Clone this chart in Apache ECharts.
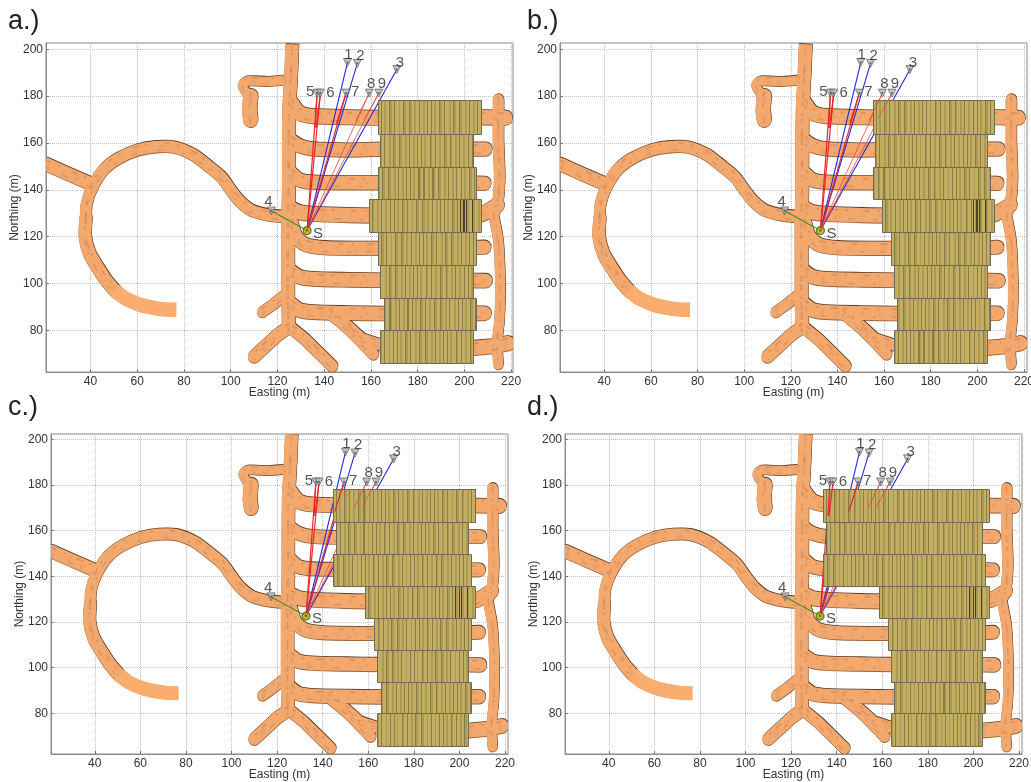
<!DOCTYPE html>
<html>
<head>
<meta charset="utf-8">
<script src="https://cdn.jsdelivr.net/npm/echarts@6/dist/echarts.min.js"></script>
<style>html,body{margin:0;padding:0;background:#fff}#c{width:1031px;height:782px;filter:blur(0.35px)}</style>
</head>
<body>
<div id="c"></div>
<script>
// ---- receivers and source (Easting, Northing in metres)
const receiverNames = ['1','2','3','4','5','6','7','8','9'];
const receiverE = [150,154.2,171.1,117.4,137,138.4,149.4,159.3,163.4];
const receiverN = [194.4,194,191.4,131,181.3,181.3,181.3,181.3,181.3];
const sourceE = 132.7, sourceN = 122.6;
const rayKinds = ['blue','blue','blue','green','red','red','red','thin','thin'];
// where red rays enter the stope volume (drawn above the stopes down to here)
const rayTopEndE = [null,null,null,null,136.2,136.6,145.3,153.7,157.4];
const rayTopEndN = [null,null,null,null,166.5,166.5,168.3,169.8,170.5];

// ---- stope rows
const rowNorthing = [178.2,163.9,149.9,135.9,121.9,107.9,93.9,80,65.9];
const stopeExtentA = [[162.9,207],[164,203.6],[162.9,205],[159,206.9],[162.9,205],[164,203.6],[165.4,205],[164,203.6]];
const stopeExtentB = [[155.3,207.1],[156.3,204],[155.3,205.3],[159.1,207.1],[162.9,205.3],[164.1,204],[165.6,205.3],[164.1,204]];
const stopeExtentC = [[144.5,207],[145.7,203.7],[144.5,205],[158.7,207],[162.7,205],[164,203.7],[165.4,205],[164,203.7]];
const stopeExtentD = [[134,207],[135.3,203.7],[134,205],[158.7,207],[162.7,205],[164,203.7],[165.3,205],[164,203.7]];
const sliceWidths = [1.3,0.45,0.9,0.8,1.4,0.45,0.7,1.0,0.45,1.5,0.8,1.1,0.45,0.8,1.3,0.45,0.7,1.2,0.85,0.9,0.45,1.4,0.75,1.0,0.45];
const sliceShades = [0,2,0,1,0,2,1,0,2,0,1,0,2,1,0,2,1,0,1,0,2,0,1,0,2];
const rowPatternStart = [0,6,10,14,4,8,12,18];
const darkStrips = [[198,198.7],[199.6,200.2],[200.6,201.3],[203.2,203.8]];

// ---- tunnels: centre lines (E,N) and width in metres
const tunnels = [
 {w:5.6,path:[[21,151],[30,147],[40,142.7]]},
 {w:5,path:[[38,127],[38.3,134],[41,141.5],[46,149],[52,153.5],[60,157],[68,158.4],[76,158.2],[84,155],[90,150.5],[96,145.5],[100,140],[104,135],[109,131.2],[116,129.3],[124,128.5]]},
 {w:5.6,path:[[38,128],[37.7,120],[39.5,113],[43,107],[47,101],[51,96.5]]},
 {w:6.2,plain:true,butt:true,path:[[50.5,97],[55,93.6],[61,91],[66,89.8],[71,89],[76.8,88.8]]},
 {w:5.8,butt:true,path:[[126.3,202.2],[125.8,190],[125,175],[124.8,160],[124.8,140],[124.5,128],[124.5,110],[124.5,95],[124.8,80]]},
 {w:4,path:[[124,187],[116,186.3],[107,186.5],[105,184.6],[108,180]]},
 {w:6.4,path:[[108.5,180],[108,174],[108.5,170]]},
 {w:6.2,path:[[126,177],[129.5,172.8],[135,171.5],[150,171],[165,170.8],[207,171],[217.5,170.8]]},
 {w:5.8,path:[[126,161],[129.5,158.8],[135,157.5],[150,157],[165,157.4],[200,157.4],[209,157.4]]},
 {w:5.8,path:[[126,147],[129.5,144.2],[135,143.3],[150,143],[165,143],[200,143],[208.5,142.8]]},
 {w:6.2,path:[[126,132],[129.5,130.4],[135,129.8],[150,129.2],[165,129],[207,129.5],[210,131],[214,133.5]]},
 {w:5.8,path:[[126,126],[128,120],[132,116.6],[140,115.3],[160,115],[200,115.3],[208.5,115.5]]},
 {w:6,path:[[126,105],[129.5,102.8],[135,102],[150,101.6],[165,101.4],[200,101.3],[209,101.2]]},
 {w:6,path:[[126,91],[129.5,88.6],[135,87.8],[150,87.4],[165,87.2],[200,87.3],[208.5,87.3]]},
 {w:4.6,path:[[113.5,87.8],[118,91],[123,95]]},
 {w:5.4,path:[[125,81.5],[120,78],[110,68.8]]},
 {w:5,path:[[126.5,80.5],[132,76],[143.4,64.8]]},
 {w:4.8,path:[[142,87.5],[150,81],[158,73],[161,69.8]]},
 {w:4.8,path:[[150,82],[156,76.5],[165,73.5]]},
 {w:4.8,path:[[214.5,178.5],[214.5,170],[214.5,160],[215,145],[214.3,135],[213,131]]},
 {w:4.4,path:[[212.5,129],[214.5,118],[215.3,100],[215,85],[214,75],[214.5,65.5]]},
 {w:6.2,path:[[204,72.5],[212,73.2],[218.5,74.5]]}
];

// ---- panels
const xTicksHiddenEnds = {showMinLabel:false,showMaxLabel:false};
const panels = [
 {label:'a.)',tx:3,ty:3,left:46,top:43,width:467,height:329,xMin:21,xMax:220.8,yMin:62.2,yMax:202.7,stopes:stopeExtentA},
 {label:'b.)',tx:522,ty:3,left:560,top:43,width:467,height:329,xMin:21,xMax:221.3,yMin:62.2,yMax:202.7,stopes:stopeExtentB},
 {label:'c.)',tx:3,ty:389,left:51,top:434,width:457,height:320,xMin:20.8,xMax:221.3,yMin:62.2,yMax:202.3,stopes:stopeExtentC},
 {label:'d.)',tx:522,ty:389,left:565,top:434,width:457,height:320,xMin:20.8,xMax:221.3,yMin:62.2,yMax:202.3,stopes:stopeExtentD}
];

const sliceColors = ['#c4ae62','#ab9a55','#8a7c46'];
const rayStyle = {
  blue:{stroke:'#2228e0',lineWidth:1.1},
  red:{stroke:'#e8262a',lineWidth:1.2},
  thin:{stroke:'#e8463c',lineWidth:0.8},
  green:{stroke:'#1c8c1c',lineWidth:1}
};
const labelOffsets = [[1,-8],[3,-8],[3,-7],[-3,-9],[-7,-1],[10,0],[9,-1],[2,-9],[3,-9]];

function tunnelLayer(layer){
  return function(params,api){
    const t = tunnels[api.value(2)];
    const k = api.size([1,1])[0];
    const w = t.w*k;
    const pts = t.path.map(p=>api.coord(p));
    const mk = (dx,dy,style)=>({type:'polyline',
      shape:{points:pts.map(p=>[p[0]+dx,p[1]+dy]),smooth:pts.length>3?0.25:0},
      style:Object.assign({fill:null,lineJoin:'round',lineCap:t.butt?'butt':'round'},style)});
    if(layer==='dark'){
      if(t.plain) return {type:'group',children:[]};
      return {type:'group',children:[
        mk(0.2,0.9,{stroke:'#98623a',lineWidth:w}),
        mk(0.5,-0.8,{stroke:'#5a3a22',lineWidth:w})
      ]};
    }
    if(layer==='base'){
      return mk(0,0,{stroke:t.plain?'#fbac6f':'#f3a86e',lineWidth:w});
    }
    if(t.plain) return {type:'group',children:[]};
    return {type:'group',children:[
      mk(0,-w*0.3,{stroke:'#c9814f',lineWidth:w*0.14,lineDash:[5,8,2,13,7,6,3,17],lineCap:'butt',opacity:0.55}),
      mk(0,w*0.28,{stroke:'#cf8956',lineWidth:w*0.14,lineDash:[3,15,6,7,2,11,7,19],lineCap:'butt',opacity:0.55}),
      mk(0,w*0.02,{stroke:'#e19a66',lineWidth:w*0.3,lineDash:[4,14,3,10,6,21],lineCap:'butt',opacity:0.4})
    ]};
  };
}
function renderSegment(params,api){
  const a = api.coord([api.value(0),api.value(1)]);
  const b = api.coord([api.value(2),api.value(3)]);
  const s = rayStyle[rayKinds[api.value(4)]];
  return {type:'line',shape:{x1:a[0],y1:a[1],x2:b[0],y2:b[1]},style:Object.assign({},s)};
}
function renderStope(params,api){
  const a = api.coord([api.value(0),api.value(1)]);
  const b = api.coord([api.value(2),api.value(3)]);
  const kind = api.value(4);
  const x0 = Math.round(Math.min(a[0],b[0])), x1 = Math.round(Math.max(a[0],b[0]));
  const y0 = Math.round(Math.min(a[1],b[1])), y1 = Math.round(Math.max(a[1],b[1]));
  const shape = {x:x0,y:y0,width:Math.max(1,x1-x0),height:y1-y0};
  if(kind===-1) return {type:'rect',shape:{x:x0+0.5,y:y0+0.5,width:x1-x0,height:y1-y0},style:{fill:null,stroke:'#6e6a58',lineWidth:1}};
  if(kind===3) return {type:'rect',shape,style:{fill:'#4a4122'}};
  return {type:'rect',shape,style:{fill:sliceColors[kind]}};
}
function stopeData(extent){
  const out = [];
  extent.forEach((e,r)=>{
    const top = rowNorthing[r], bot = rowNorthing[r+1];
    let x = e[0], i = rowPatternStart[r];
    while(x<e[1]){
      const nx = Math.min(e[1],x+sliceWidths[i%sliceWidths.length]);
      out.push([x,top,nx,bot,sliceShades[i%sliceShades.length]]);
      x = nx; i++;
    }
    if(r===3) darkStrips.forEach(d=>out.push([d[0],top,d[1],bot,3]));
    out.push([e[0],top,e[1],bot,-1]);
  });
  return out;
}

const grid=[],xAxis=[],yAxis=[],series=[],title=[];
panels.forEach((p,i)=>{
  title.push({text:p.label,left:p.tx,top:p.ty,textStyle:{fontFamily:'Liberation Sans',fontSize:27,fontWeight:'normal',color:'#222'}});
  grid.push({left:p.left,top:p.top,width:p.width,height:p.height,show:true,borderColor:'#8c8c8c',borderWidth:1,backgroundColor:'#fff',containLabel:false,outerBoundsMode:'none'});
  const axisCommon = {
    type:'value',gridIndex:i,
    axisLine:{show:true,onZero:false,lineStyle:{color:'#8c8c8c',width:1}},
    axisTick:{show:true,inside:true,length:3,lineStyle:{color:'#777'}},
    splitLine:{show:true,lineStyle:{color:'#c2c2c2',type:'dotted',width:1}},
    nameTextStyle:{fontFamily:'Liberation Sans',fontSize:12,color:'#333'},
    nameLocation:'middle',nameMoveOverlap:false
  };
  const lab = {fontFamily:'Liberation Sans',fontSize:12,color:'#333',hideOverlap:false,...xTicksHiddenEnds};
  xAxis.push({...axisCommon,min:p.xMin,max:p.xMax,splitNumber:10,name:'Easting (m)',nameGap:15,axisLabel:{...lab,margin:4}});
  yAxis.push({...axisCommon,min:p.yMin,max:p.yMax,splitNumber:7,name:'Northing (m)',nameGap:25,axisLabel:{...lab,margin:3}});
  const base = {xAxisIndex:i,yAxisIndex:i,silent:true,animation:false,clip:true};
  const tData = tunnels.map((t,k)=>[t.path[0][0],t.path[0][1],k]);
  series.push({...base,type:'custom',z:2,data:tData,encode:{x:0,y:1},renderItem:tunnelLayer('dark')});
  series.push({...base,type:'custom',z:3,data:tData,encode:{x:0,y:1},renderItem:tunnelLayer('base')});
  series.push({...base,type:'custom',z:4,data:tData,encode:{x:0,y:1},renderItem:tunnelLayer('tex')});
  series.push({...base,type:'custom',z:5,encode:{x:0,y:1},renderItem:renderSegment,
    data:receiverE.map((e,k)=>[sourceE,sourceN,e,receiverN[k],k])});
  series.push({...base,type:'custom',z:6,encode:{x:0,y:1},renderItem:renderStope,data:stopeData(p.stopes)});
  series.push({...base,type:'custom',z:7,encode:{x:0,y:1},renderItem:renderSegment,
    data:receiverE.map((e,k)=>rayTopEndE[k]===null?null:[e,receiverN[k],rayTopEndE[k],rayTopEndN[k],k]).filter(Boolean)});
  series.push({...base,type:'scatter',z:8,symbol:'triangle',symbolRotate:180,symbolSize:8,
    itemStyle:{color:'#b4b4b4',borderColor:'#4f4f4f',borderWidth:0.8},
    data:receiverE.map((e,k)=>({value:[e,receiverN[k]],
      label:{show:true,position:'inside',formatter:receiverNames[k],offset:labelOffsets[k],
        fontFamily:'Liberation Sans',fontSize:15,color:'#2a2a2a'}}))});
  series.push({...base,type:'scatter',z:9,symbol:'circle',symbolSize:2,itemStyle:{color:'#444'},
    data:receiverE.map((e,k)=>[e,receiverN[k]])});
  series.push({...base,type:'scatter',z:9,symbol:'circle',symbolSize:8,
    itemStyle:{color:'#b3a800',borderColor:'#2f6a18',borderWidth:1.2},
    data:[{value:[sourceE,sourceN],label:{show:true,position:'inside',formatter:'S',offset:[11,3],
      fontFamily:'Liberation Sans',fontSize:15,color:'#2a2a2a'}}]});
  series.push({...base,type:'scatter',z:10,symbol:'circle',symbolSize:2.5,itemStyle:{color:'#d62020'},
    data:[[sourceE,sourceN]]});
});

const chart = echarts.init(document.getElementById('c'),null,{renderer:'canvas'});
chart.setOption({animation:false,backgroundColor:'#fff',title,grid,xAxis,yAxis,series});
</script>
</body>
</html>
